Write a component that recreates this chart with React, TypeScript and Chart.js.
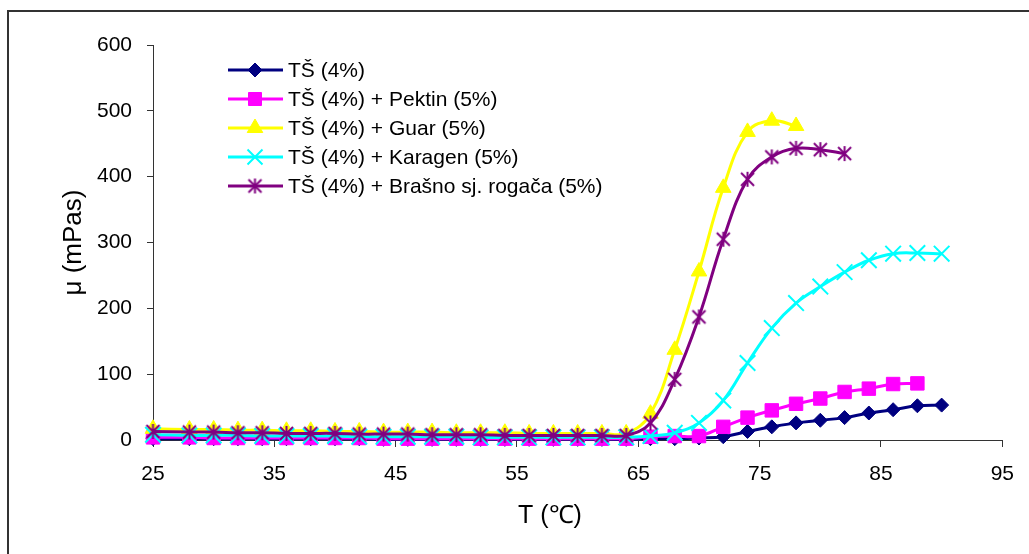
import React, { useEffect, useRef } from 'react';
import { Chart, registerables } from 'chart.js';

Chart.register(...registerables);

// ---- data ----
const TEMPERATURES = [25, 28, 30, 32, 34, 36, 38, 40, 42, 44, 46, 48, 50, 52, 54, 56, 58, 60, 62, 64, 66, 68, 70, 72, 74, 76, 78, 80, 82, 84, 86, 88, 90];

const TS = [2, 2, 2, 2, 2, 2, 2, 2, 2, 1, 1, 1, 1, 1, 1, 1, 1, 1, 1, 1, 2, 2, 3, 5, 13, 20, 26, 30, 34, 41, 46, 52, 53];
const PEKTIN = [4, 4, 3, 3, 3, 3, 3, 3, 3, 2, 2, 2, 2, 2, 2, 2, 2, 2, 2, 2, 5, 6, 6, 20, 34, 45, 55, 63, 73, 78, 85, 86];
const GUAR = [17, 16, 16, 15, 15, 14, 14, 13, 13, 12, 12, 12, 11, 11, 11, 10, 10, 10, 10, 10, 40, 137, 256, 383, 468, 485, 477];
const KARAGEN = [8, 7, 7, 7, 6, 6, 6, 6, 5, 5, 5, 5, 5, 4, 4, 4, 4, 4, 4, 4, 6, 11, 26, 60, 117, 170, 208, 233, 255, 273, 283, 284, 283];
const BRASNO = [13, 12, 12, 11, 11, 10, 10, 10, 9, 9, 9, 8, 8, 8, 7, 7, 7, 7, 7, 7, 26, 92, 187, 305, 396, 430, 443, 441, 435];

const SERIES_LABELS = [
  'TŠ (4%)',
  'TŠ (4%) + Pektin (5%)',
  'TŠ (4%) + Guar (5%)',
  'TŠ (4%) + Karagen (5%)',
  'TŠ (4%) + Brašno sj. rogača (5%)',
];
const SERIES_VALUES = [TS, PEKTIN, GUAR, KARAGEN, BRASNO];
const SERIES_COLORS = ['#000080', '#FF00FF', '#FFFF00', '#00FFFF', '#800080'];
const SERIES_MARKERS = ['diamond', 'square', 'triangle', 'x', 'star'];

const X_TITLE = 'T (℃)';
const Y_TITLE = 'μ (mPas)';
const X_MIN = 25, X_MAX = 95, X_STEP = 10;
const Y_MIN = 0, Y_MAX = 600, Y_STEP = 100;

const FONT = "'Liberation Sans', Arial, sans-serif";

function makeAsterisk(color: string): HTMLCanvasElement {
  const size = 17;
  const c = document.createElement('canvas');
  c.width = size;
  c.height = size;
  const ctx = c.getContext('2d')!;
  ctx.strokeStyle = color;
  ctx.lineWidth = 2;
  const m = size / 2;
  const r = 7.5;
  const d = 6.5;
  ctx.beginPath();
  ctx.moveTo(m, m - r);
  ctx.lineTo(m, m + r);
  ctx.moveTo(m - d, m - d);
  ctx.lineTo(m + d, m + d);
  ctx.moveTo(m + d, m - d);
  ctx.lineTo(m - d, m + d);
  ctx.stroke();
  return c;
}

function drawMarker(ctx: CanvasRenderingContext2D, kind: string, x: number, y: number, color: string, star: HTMLCanvasElement) {
  ctx.save();
  ctx.fillStyle = color;
  ctx.strokeStyle = color;
  ctx.lineWidth = 1;
  ctx.beginPath();
  if (kind === 'diamond') {
    ctx.moveTo(x, y - 7);
    ctx.lineTo(x + 7, y);
    ctx.lineTo(x, y + 7);
    ctx.lineTo(x - 7, y);
    ctx.closePath();
    ctx.fill();
    ctx.stroke();
  } else if (kind === 'square') {
    ctx.rect(x - 6.5, y - 6.5, 13, 13);
    ctx.fill();
    ctx.stroke();
  } else if (kind === 'triangle') {
    const r = 9;
    ctx.moveTo(x, y - r);
    ctx.lineTo(x + r * 0.866, y + r * 0.5);
    ctx.lineTo(x - r * 0.866, y + r * 0.5);
    ctx.closePath();
    ctx.fill();
    ctx.stroke();
  } else if (kind === 'x') {
    const d = 7.5;
    ctx.lineWidth = 2;
    ctx.moveTo(x - d, y - d);
    ctx.lineTo(x + d, y + d);
    ctx.moveTo(x + d, y - d);
    ctx.lineTo(x - d, y + d);
    ctx.stroke();
  } else if (kind === 'star') {
    ctx.drawImage(star, x - star.width / 2, y - star.height / 2);
  }
  ctx.restore();
}

export default function App() {
  const canvasRef = useRef<HTMLCanvasElement | null>(null);

  useEffect(() => {
    const canvas = canvasRef.current;
    if (!canvas) return;
    const star = makeAsterisk(SERIES_COLORS[4]);

    const pointStyles: any[] = ['rectRot', 'rect', 'triangle', 'crossRot', star];
    const pointRadii = [7, 9.5, 9, 11, 8];
    const pointBorders = [1, 1, 1, 2, 1];

    const datasets = SERIES_VALUES.map((vals, i) => ({
      label: SERIES_LABELS[i],
      data: vals.map((v, j) => ({ x: TEMPERATURES[j], y: v })),
      borderColor: SERIES_COLORS[i],
      backgroundColor: SERIES_COLORS[i],
      pointBackgroundColor: SERIES_COLORS[i],
      pointBorderColor: SERIES_COLORS[i],
      borderWidth: 3,
      pointStyle: pointStyles[i],
      pointRadius: pointRadii[i],
      pointBorderWidth: pointBorders[i],
      tension: 0.4,
      clip: false as any,
      order: 4 - i,
    }));

    const framePlugin = {
      id: 'frame',
      beforeDraw(chart: any) {
        const ctx = chart.ctx as CanvasRenderingContext2D;
        ctx.save();
        ctx.strokeStyle = '#333333';
        ctx.lineWidth = 2;
        ctx.beginPath();
        ctx.moveTo(8, 554);
        ctx.lineTo(8, 11);
        ctx.lineTo(1029, 11);
        ctx.stroke();
        ctx.restore();
      },
    };

    const textPlugin = {
      id: 'insideLegend',
      afterDraw(chart: any) {
        const ctx = chart.ctx as CanvasRenderingContext2D;
        const x0 = 228, x1 = 283, xm = 255, xt = 288;
        const y0 = 70, dy = 29;
        ctx.save();
        ctx.font = `21px ${FONT}`;
        ctx.textBaseline = 'middle';
        ctx.textAlign = 'left';
        SERIES_LABELS.forEach((label, i) => {
          const y = y0 + i * dy;
          ctx.strokeStyle = SERIES_COLORS[i];
          ctx.lineWidth = 3;
          ctx.beginPath();
          ctx.moveTo(x0, y);
          ctx.lineTo(x1, y);
          ctx.stroke();
          drawMarker(ctx, SERIES_MARKERS[i], xm, y, SERIES_COLORS[i], star);
          ctx.fillStyle = '#000';
          ctx.fillText(label, xt, y + 1);
        });
        // x axis title (offset left of the plot centre, as in the reference)
        ctx.font = `25px ${FONT}`;
        ctx.textAlign = 'center';
        ctx.fillText(X_TITLE, 550, 516);
        ctx.restore();
      },
    };

    const chart = new Chart(canvas, {
      type: 'line',
      data: { datasets },
      plugins: [framePlugin, textPlugin],
      options: {
        animation: false,
        responsive: false,
        maintainAspectRatio: false,
        devicePixelRatio: 1,
        layout: { padding: { top: 45, right: 22, bottom: 0, left: 0 } },
        plugins: {
          legend: { display: false },
          tooltip: { enabled: false },
        },
        scales: {
          x: {
            type: 'linear',
            min: X_MIN,
            max: X_MAX,
            afterFit(scale: any) {
              scale.height = 114;
            },
            ticks: {
              stepSize: X_STEP,
              color: '#000',
              font: { family: FONT, size: 21 },
              padding: 15,
              maxRotation: 0,
            },
            grid: { display: true, drawOnChartArea: false, drawTicks: true, tickLength: 7, color: '#333' },
            border: { display: true, color: '#333', width: 1 },
            title: { display: false },
          },
          y: {
            type: 'linear',
            min: Y_MIN,
            max: Y_MAX,
            afterFit(scale: any) {
              scale.width = 153;
            },
            ticks: {
              stepSize: Y_STEP,
              color: '#000',
              font: { family: FONT, size: 21 },
              padding: 15,
            },
            grid: { display: true, drawOnChartArea: false, drawTicks: true, tickLength: 6, color: '#333' },
            border: { display: true, color: '#333', width: 1 },
            title: {
              display: true,
              text: Y_TITLE,
              color: '#000',
              font: { family: FONT, size: 26 },
              padding: { top: 58, bottom: 0 },
            },
          },
        },
      },
    } as any);

    return () => {
      chart.destroy();
    };
  }, []);

  return (
    <div style={{ position: 'fixed', left: 0, top: 0, width: 1029, height: 554, background: '#fff' }}>
      <canvas ref={canvasRef} width={1029} height={554} style={{ width: 1029, height: 554, display: 'block' }} />
    </div>
  );
}
